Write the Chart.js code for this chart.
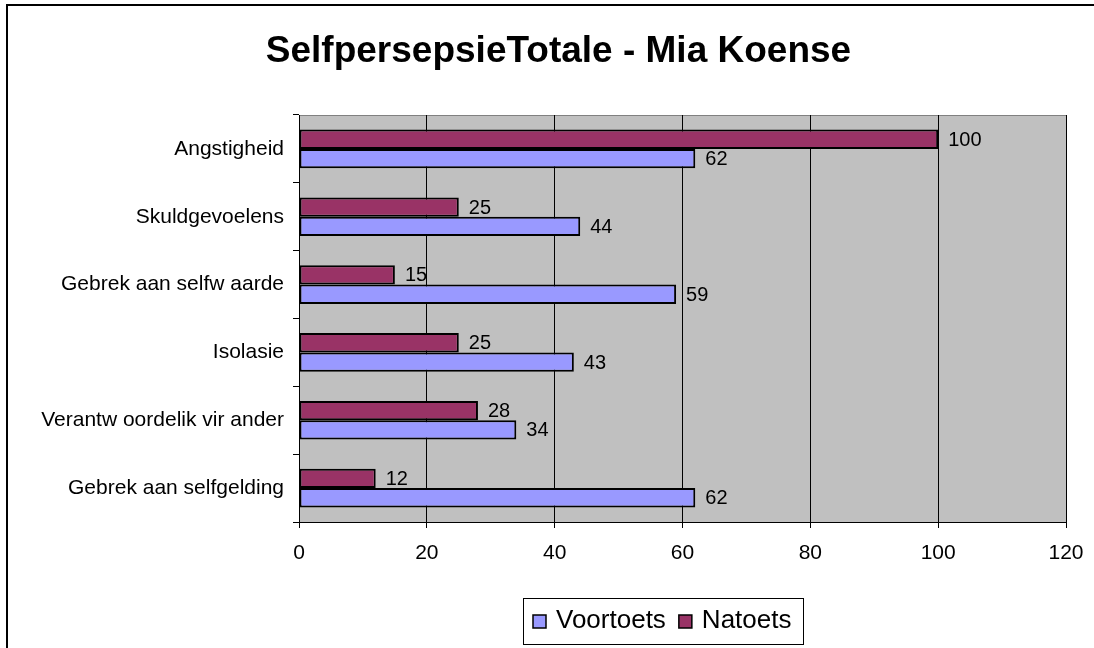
<!DOCTYPE html>
<html>
<head>
<meta charset="utf-8">
<script src="https://cdn.jsdelivr.net/npm/chart.js@4"></script>
<style>
    html, body { margin: 0; padding: 0; background: #fff; }
    #wrap { width: 1094px; height: 648px; }
</style>
</head>
<body>
<div id="wrap"><canvas id="chart" width="1094" height="648"></canvas></div>
<script>
// data
const categories = ['Angstigheid', 'Skuldgevoelens', 'Gebrek aan selfw aarde', 'Isolasie', 'Verantw oordelik vir ander', 'Gebrek aan selfgelding'];
const voortoets = [62, 44, 59, 43, 34, 62];
const natoets = [100, 25, 15, 25, 28, 12];
const xTicks = [0, 20, 40, 60, 80, 100, 120];
const chartTitle = 'SelfpersepsieTotale - Mia Koense';

const FONT = "Arial, 'Liberation Sans', sans-serif";

// frame, title and grey plot area
const backdrop = {
    id: 'backdrop',
    beforeDraw(chart) {
        const ctx = chart.ctx;
        const a = chart.chartArea;
        ctx.save();
        ctx.fillStyle = '#fff';
        ctx.fillRect(0, 0, chart.width, chart.height);
        ctx.strokeStyle = '#000';
        ctx.lineWidth = 2;
        ctx.strokeRect(7, 5, chart.width + 50, chart.height + 50);

        ctx.fillStyle = '#000';
        ctx.font = 'bold 37px ' + FONT;
        ctx.textAlign = 'center';
        ctx.textBaseline = 'middle';
        ctx.fillText(chartTitle, 558.5, 52);

        ctx.fillStyle = '#c0c0c0';
        ctx.fillRect(a.left, a.top, a.right - a.left, a.bottom - a.top);
        ctx.strokeStyle = '#808080';
        ctx.lineWidth = 1;
        ctx.strokeRect(a.left + 0.5, a.top + 0.5, a.right - a.left, a.bottom - a.top);
        ctx.restore();
    }
};

// value labels next to the bars
const valueLabels = {
    id: 'valueLabels',
    afterDatasetsDraw(chart) {
        const ctx = chart.ctx;
        ctx.save();
        ctx.font = '20px ' + FONT;
        ctx.fillStyle = '#000';
        ctx.textBaseline = 'middle';
        chart.data.datasets.forEach((ds, i) => {
            chart.getDatasetMeta(i).data.forEach((bar, j) => {
                ctx.fillText(ds.data[j], bar.x + 10, bar.y + 1);
            });
        });
        ctx.restore();
    }
};

// legend in a box below the axis (Voortoets first, like Excel)
const boxLegend = {
    id: 'boxLegend',
    afterDraw(chart) {
        const ctx = chart.ctx;
        const items = chart.data.datasets.slice().reverse();
        ctx.save();
        ctx.font = '26px ' + FONT;
        ctx.textBaseline = 'middle';
        const left = 523, top = 598, h = 46;
        const cy = top + h / 2;
        let x = left + 10;
        items.forEach((ds, i) => {
            ctx.fillStyle = ds.backgroundColor;
            ctx.fillRect(x, cy - 6, 13, 13);
            ctx.strokeStyle = '#000';
            ctx.lineWidth = 1.5;
            ctx.strokeRect(x, cy - 6, 13, 13);
            x += 23;
            ctx.fillStyle = '#000';
            ctx.fillText(ds.label, x, cy);
            x += ctx.measureText(ds.label).width;
            if (i < items.length - 1) x += 13;
        });
        ctx.strokeStyle = '#000';
        ctx.lineWidth = 1;
        ctx.strokeRect(left + 0.5, top + 0.5, Math.round(x + 12 - left), h);
        ctx.restore();
    }
};

new Chart(document.getElementById('chart'), {
    type: 'bar',
    data: {
        labels: categories,
        datasets: [{
            label: 'Natoets',
            data: natoets,
            backgroundColor: '#993366',
            borderColor: '#000',
            borderWidth: 2,
            borderSkipped: false
        }, {
            label: 'Voortoets',
            data: voortoets,
            backgroundColor: '#9999ff',
            borderColor: '#000',
            borderWidth: 2,
            borderSkipped: false
        }]
    },
    options: {
        indexAxis: 'y',
        responsive: false,
        animation: false,
        datasets: {
            bar: { categoryPercentage: 0.57, barPercentage: 1.0 }
        },
        layout: { padding: { left: 10, right: 28, top: 115, bottom: 66 } },
        scales: {
            x: {
                min: 0,
                max: 120,
                afterBuildTicks(scale) {
                    scale.ticks = xTicks.map(v => ({ value: v }));
                },
                afterFit(scale) {
                    scale.height = 60;
                    scale.paddingLeft = 0;
                    scale.paddingRight = 0;
                },
                grid: { color: '#000', lineWidth: 1, tickLength: 6 },
                border: { color: '#000' },
                ticks: { color: '#000', font: { family: FONT, size: 21 }, padding: 13, maxRotation: 0 }
            },
            y: {
                afterFit(scale) { scale.width = 289; },
                grid: { drawOnChartArea: false, color: '#000', tickLength: 6, offset: true },
                border: { color: '#000' },
                ticks: { color: '#000', font: { family: FONT, size: 21 }, padding: 9 }
            }
        },
        plugins: {
            title: { display: false },
            legend: { display: false },
            tooltip: { enabled: false }
        }
    },
    plugins: [backdrop, valueLabels, boxLegend]
});
</script>
</body>
</html>
